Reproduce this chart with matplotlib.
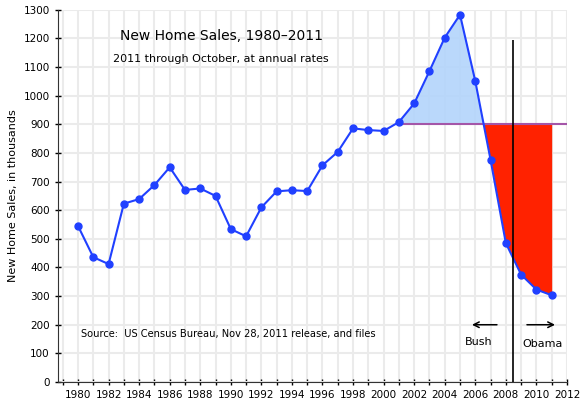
import matplotlib
matplotlib.use('Agg')
import matplotlib.pyplot as plt
from matplotlib.ticker import MultipleLocator

years = list(range(1980, 2012))
sales = [545, 436, 412, 623, 639, 688, 750, 671, 676, 650,
         534, 509, 610, 666, 670, 667, 757, 804, 886, 880,
         877, 908, 973, 1086, 1203, 1283, 1051, 776, 485, 375,
         323, 303]

baseline = 900
baseline_start = 2001
split_year = 2008.5

title = 'New Home Sales, 1980\u20132011'
subtitle = '2011 through October, at annual rates'
source = 'Source:  US Census Bureau, Nov 28, 2011 release, and files'

fig = plt.figure(figsize=(5.83, 4.01), dpi=100)
ax = fig.add_axes([0.0995, 0.0474, 0.873, 0.928])

# shade the boom above 900 and the bust below it, from 2001 on
recent_x = [y for y in years if y >= baseline_start]
recent_y = [s for y, s in zip(years, sales) if y >= baseline_start]
ax.fill_between(recent_x, recent_y, baseline,
                where=[v >= baseline for v in recent_y], interpolate=True,
                color='#b3d4fb', alpha=0.9, lw=0, zorder=2)
ax.fill_between(recent_x, recent_y, baseline,
                where=[v <= baseline for v in recent_y], interpolate=True,
                color='#ff2200', lw=0, zorder=2)

ax.hlines(baseline, baseline_start, 2012, color='#a456a8', lw=1.5, zorder=3)
ax.plot(years, sales, color='#2040ff', lw=1.5, marker='o', ms=5, zorder=4)
ax.vlines(split_year, 0, 1195, color='black', lw=1.2, zorder=5)

# presidency arrows
ax.annotate('', xy=(2005.6, 200), xytext=(2007.6, 200),
            arrowprops=dict(arrowstyle='->', color='black', lw=1.1))
ax.annotate('', xy=(2011.4, 200), xytext=(2009.2, 200),
            arrowprops=dict(arrowstyle='->', color='black', lw=1.1))
ax.text(2006.2, 140, 'Bush', ha='center', va='center', fontsize=8)
ax.text(2010.4, 133, 'Obama', ha='center', va='center', fontsize=8)

ax.text(1982.75, 1207, title, ha='left', va='center', fontsize=10)
ax.text(1982.3, 1128, subtitle, ha='left', va='center', fontsize=8)
ax.text(1980.2, 168, source, ha='left', va='center', fontsize=7.1)

ax.set_xlim(1978.69, 2012)
ax.set_ylim(0, 1300)
ax.xaxis.set_major_locator(MultipleLocator(2))
ax.xaxis.set_minor_locator(MultipleLocator(1))
ax.yaxis.set_major_locator(MultipleLocator(100))
ax.grid(True, which='both', color='#ebebeb', lw=1.5, zorder=0)
ax.set_axisbelow(True)
ax.tick_params(which='both', direction='inout', labelsize=7.5, length=5, width=1)

for side in ['top', 'right']:
    ax.spines[side].set_visible(False)
for side in ['left', 'bottom']:
    ax.spines[side].set_color('#333333')

ax.set_ylabel('New Home Sales, in thousands', fontsize=8, labelpad=4)

fig.savefig('out.png', dpi=100)
